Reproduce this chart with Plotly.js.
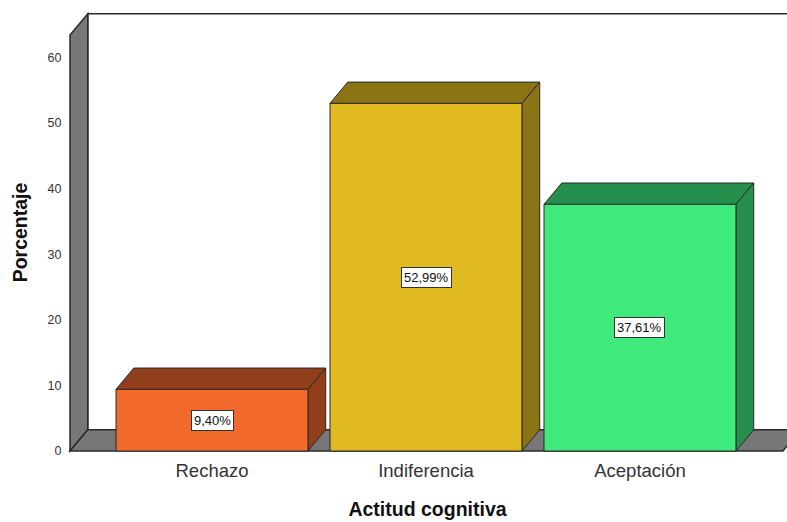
<!DOCTYPE html>
<html>
<head>
<meta charset="utf-8">
<script src="https://cdn.plot.ly/plotly-3.0.1.min.js"></script>
<style>html,body{margin:0;padding:0;background:#fff;}#chart{width:787px;height:522px;}</style>
</head>
<body>
<div id="chart"></div>
<script>
// ---- data ----
const categories = ['Rechazo', 'Indiferencia', 'Aceptación'];
const percentages = [9.40, 52.99, 37.61];
const yTickValues = [0, 10, 20, 30, 40, 50, 60];
const xAxisTitle = 'Actitud cognitiva';
const yAxisTitle = 'Porcentaje';

// ---- styles ----
const frontColors = ['#F2692C', '#E0BA20', '#40E97C'];
const shadeColors = ['#913E1B', '#8A7414', '#268F4E'];
const wallColor = '#777777';
const edgeColor = '#2a2a2a';
const FONT = 'Arial, "Liberation Sans", sans-serif';

// ---- 3D geometry (axis units) ----
const BAR_W = 0.897;
const DX = 0.083;
const DY = 3.25;
const X_MIN = -0.6636;
const X_LO = X_MIN - 2 / 214;
const X_HI = 2.687;
const FLOOR_RIGHT = 2.668;
const WALL_TOP = 63.4;
const Y_LO = -0.3;
const Y_HI = 66.92;

const xIdx = categories.map((c, i) => i);
const fmt = v => v.toFixed(2).replace('.', ',') + '%';

const poly = pts => 'M' + pts.map(p => p[0] + ',' + p[1]).join(' L') + ' Z';

const shapes = [];
// back plane
shapes.push({type: 'path', xref: 'x', yref: 'y', layer: 'below',
  path: poly([[X_MIN + DX, DY], [X_MIN + DX, WALL_TOP + DY], [X_HI + 1, WALL_TOP + DY], [X_HI + 1, DY]]),
  fillcolor: '#ffffff', line: {color: edgeColor, width: 1.5}});
// left wall
shapes.push({type: 'path', xref: 'x', yref: 'y', layer: 'below',
  path: poly([[X_MIN, 0], [X_MIN, WALL_TOP], [X_MIN + DX, WALL_TOP + DY], [X_MIN + DX, DY]]),
  fillcolor: wallColor, line: {color: edgeColor, width: 1.5}});
// floor
shapes.push({type: 'path', xref: 'x', yref: 'y', layer: 'below',
  path: poly([[X_MIN, 0], [X_MIN + DX, DY], [FLOOR_RIGHT + DX, DY], [FLOOR_RIGHT, 0]]),
  fillcolor: wallColor, line: {color: edgeColor, width: 1.5}});
// bar top and side faces
percentages.forEach((v, i) => {
  const l = xIdx[i] - BAR_W / 2, r = xIdx[i] + BAR_W / 2;
  shapes.push({type: 'path', xref: 'x', yref: 'y', layer: 'below',
    path: poly([[l, v], [l + DX, v + DY], [r + DX, v + DY], [r, v]]),
    fillcolor: shadeColors[i], line: {color: edgeColor, width: 1}});
  shapes.push({type: 'path', xref: 'x', yref: 'y', layer: 'below',
    path: poly([[r, 0], [r + DX, DY], [r + DX, v + DY], [r, v]]),
    fillcolor: shadeColors[i], line: {color: edgeColor, width: 1}});
});

const annotations = percentages.map((v, i) => ({
  x: xIdx[i], y: v / 2, xref: 'x', yref: 'y', text: fmt(v), showarrow: false,
  font: {family: FONT, size: 13, color: '#111'},
  bgcolor: '#ffffff', bordercolor: '#333', borderwidth: 1, borderpad: 2
}));

const trace = {
  type: 'bar', x: xIdx, y: percentages, width: BAR_W,
  marker: {color: frontColors, line: {color: edgeColor, width: 1}},
  hoverinfo: 'skip', showlegend: false
};

const layout = {
  width: 787, height: 522,
  margin: {l: 68, r: 0, t: 12, b: 69, pad: 0},
  paper_bgcolor: '#ffffff', plot_bgcolor: 'rgba(0,0,0,0)',
  showlegend: false,
  xaxis: {
    range: [X_LO, X_HI], tickvals: xIdx, ticktext: categories,
    showgrid: false, zeroline: false, showline: false,
    ticks: 'outside', ticklen: 1, tickcolor: 'rgba(0,0,0,0)',
    tickfont: {family: FONT, size: 18.5, color: '#333'},
    title: {text: xAxisTitle, font: {family: FONT, size: 19.5, color: '#111', weight: 'bold'}, standoff: 22},
    automargin: false, fixedrange: true
  },
  yaxis: {
    range: [Y_LO, Y_HI], tickvals: yTickValues,
    showgrid: false, zeroline: false, showline: false,
    ticks: 'outside', ticklen: 3, tickcolor: 'rgba(0,0,0,0)',
    tickfont: {family: FONT, size: 12.5, color: '#333'},
    title: {text: yAxisTitle, font: {family: FONT, size: 19.5, color: '#111', weight: 'bold'}, standoff: 14},
    automargin: false, fixedrange: true
  },
  shapes: shapes,
  annotations: annotations
};

Plotly.newPlot('chart', [trace], layout, {displayModeBar: false, staticPlot: true});
</script>
</body>
</html>
